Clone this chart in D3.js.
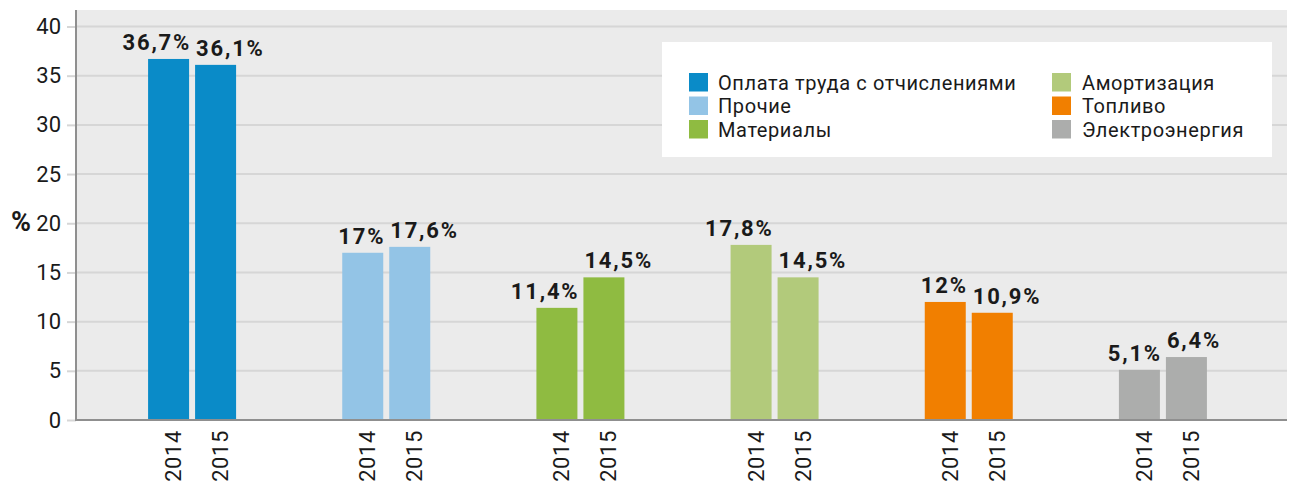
<!DOCTYPE html>
<html>
<head>
<meta charset="utf-8">
<script src="https://cdn.jsdelivr.net/npm/d3@7"></script>
<style>
  html, body { margin: 0; padding: 0; background: #ffffff; }
  svg { display: block; }
  text { font-family: Roboto, "DejaVu Sans", sans-serif; fill: #1a1a1a; }
</style>
</head>
<body>
<svg id="chart" width="1289" height="488"></svg>
<script>
// Cost structure by item, share of total, %
const categories = ["Оплата труда с отчислениями", "Прочие", "Материалы", "Амортизация", "Топливо", "Электроэнергия"];
const years = ["2014", "2015"];
const values2014 = [36.7, 17, 11.4, 17.8, 12, 5.1];
const values2015 = [36.1, 17.6, 14.5, 14.5, 10.9, 6.4];
const labels2014 = ["36,7%", "17%", "11,4%", "17,8%", "12%", "5,1%"];
const labels2015 = ["36,1%", "17,6%", "14,5%", "14,5%", "10,9%", "6,4%"];
const colors = ["#0a8bc8", "#93c4e6", "#8fbb41", "#b2ca7b", "#f17f00", "#acadac"];
const yTicks = [0, 5, 10, 15, 20, 25, 30, 35, 40];
const legendLeft = ["Оплата труда с отчислениями", "Прочие", "Материалы"];
const legendRight = ["Амортизация", "Топливо", "Электроэнергия"];

const svg = d3.select("#chart");
const plot = { left: 76, right: 1287, top: 10, bottom: 420 };

const x0 = d3.scaleBand().domain(categories).range([95, 1260]).padding(0);
const x1 = d3.scaleBand().domain(years).range([-44, 44]).paddingInner(6 / 47);
const y = d3.scaleLinear().domain([0, 40]).range([plot.bottom, 26.5]);
const color = d3.scaleOrdinal().domain(categories).range(colors);

// plot background
svg.append("rect")
  .attr("x", plot.left).attr("y", plot.top)
  .attr("width", plot.right - plot.left).attr("height", plot.bottom - plot.top)
  .attr("fill", "#ebebeb");

// y axis with gridlines
const yAxis = svg.append("g")
  .attr("transform", `translate(${plot.left},0)`)
  .call(d3.axisLeft(y).tickValues(yTicks).tickSize(9).tickPadding(6).tickFormat(d3.format("d")));
yAxis.select(".domain").remove();
yAxis.selectAll(".tick line").attr("stroke", "#d6d6d6").attr("stroke-width", 2);
yAxis.selectAll(".tick text")
  .attr("font-size", 22).attr("fill", "#1a1a1a")
  .style("font-family", "Roboto, sans-serif");

svg.append("g").selectAll("line")
  .data(yTicks.filter(d => d > 0))
  .join("line")
  .attr("x1", plot.left).attr("x2", plot.right)
  .attr("y1", d => y(d)).attr("y2", d => y(d))
  .attr("stroke", "#d6d6d6").attr("stroke-width", 2);

// bars
const rows = categories.map((c, i) => ({
  cat: c,
  bars: [
    { year: "2014", value: values2014[i], label: labels2014[i] },
    { year: "2015", value: values2015[i], label: labels2015[i] }
  ]
}));

const groups = svg.append("g").selectAll("g")
  .data(rows)
  .join("g")
  .attr("transform", d => `translate(${x0(d.cat) + x0.bandwidth() / 2},0)`);

groups.selectAll("rect")
  .data(d => d.bars.map(b => ({ ...b, cat: d.cat })))
  .join("rect")
  .attr("x", d => x1(d.year))
  .attr("y", d => y(d.value))
  .attr("width", x1.bandwidth())
  .attr("height", d => y(0) - y(d.value))
  .attr("fill", d => color(d.cat));

// value labels: first year's label hangs off to the left, second year's to the right
groups.selectAll("text.value")
  .data(d => d.bars)
  .join("text")
  .attr("class", "value")
  .attr("x", d => d.year === years[0] ? x1(d.year) + x1.bandwidth() + 2 : x1(d.year) + 1)
  .attr("y", d => y(d.value) - 9)
  .attr("text-anchor", d => d.year === years[0] ? "end" : "start")
  .attr("font-size", 22)
  .attr("font-weight", 700)
  .attr("letter-spacing", 1.8)
  .text(d => d.label);

// year labels, rotated
groups.selectAll("text.year")
  .data(d => d.bars)
  .join("text")
  .attr("class", "year")
  .attr("transform", d => `translate(${x1(d.year) + x1.bandwidth() / 2 + 5},430) rotate(-90)`)
  .attr("text-anchor", "end")
  .attr("dominant-baseline", "central")
  .attr("font-size", 22)
  .attr("letter-spacing", 0.6)
  .text(d => d.year);

// axis lines
svg.append("line")
  .attr("x1", plot.left).attr("x2", plot.left)
  .attr("y1", plot.top).attr("y2", plot.bottom + 1)
  .attr("stroke", "#8f8f8f").attr("stroke-width", 2);
svg.append("line")
  .attr("x1", plot.left).attr("x2", plot.right)
  .attr("y1", plot.bottom).attr("y2", plot.bottom)
  .attr("stroke", "#8f8f8f").attr("stroke-width", 2);

// axis title
svg.append("text")
  .attr("x", 21).attr("y", 222)
  .attr("text-anchor", "middle")
  .attr("dominant-baseline", "central")
  .attr("font-size", 27).attr("font-weight", 700)
  .text("%");

// legend
const legend = svg.append("g");
legend.append("rect")
  .attr("x", 662).attr("y", 42).attr("width", 610).attr("height", 115)
  .attr("fill", "#ffffff");

function legendColumn(items, sx, tx) {
  const g = legend.append("g");
  const item = g.selectAll("g").data(items).join("g")
    .attr("transform", (d, i) => `translate(0,${73 + i * 23.5})`);
  item.append("rect")
    .attr("x", sx).attr("y", 0).attr("width", 19).attr("height", 18.5)
    .attr("fill", d => color(d));
  item.append("text")
    .attr("x", tx).attr("y", 9.5)
    .attr("dominant-baseline", "central")
    .attr("font-size", 20)
    .attr("letter-spacing", 0.6)
    .text(d => d);
}
legendColumn(legendLeft, 689, 718);
legendColumn(legendRight, 1052, 1082);
</script>
</body>
</html>
